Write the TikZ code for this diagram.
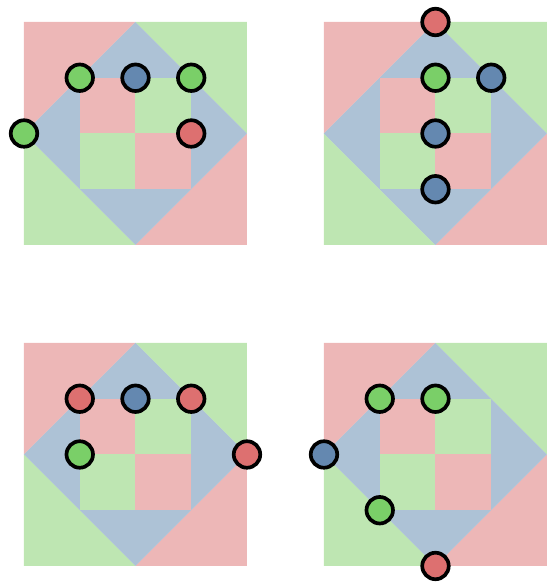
\documentclass[tikz,border=0pt]{standalone}
\usepackage{xcolor}
\usepackage{tikz}

\definecolor{tilered}{HTML}{EDB7B7}
\definecolor{tilegreen}{HTML}{BEE6B2}
\definecolor{tileblue}{HTML}{ADC2D6}
\definecolor{dotred}{HTML}{DD7070}
\definecolor{dotgreen}{HTML}{7ACF68}
\definecolor{dotblue}{HTML}{6488B0}

\tikzset{
	dot/.style={draw=black, circle, line width=2.1pt, inner sep=0pt, minimum size=0.53cm},
	rdot/.style={dot, fill=dotred},
	gdot/.style={dot, fill=dotgreen},
	bdot/.style={dot, fill=dotblue}
}

\newcommand{\tileboard}{%
	\fill[tilered] (0,0) -- (2,0) -- (0,2) -- cycle;
	\fill[tilegreen] (2,0) -- (4,0) -- (4,2) -- cycle;
	\fill[tilered] (4,2) -- (4,4) -- (2,4) -- cycle;
	\fill[tilegreen] (0,2) -- (0,4) -- (2,4) -- cycle;
	\fill[tileblue] (2,0) -- (4,2) -- (2,4) -- (0,2) -- cycle;
	\fill[tilered] (1,1) rectangle (2,2);
	\fill[tilegreen] (2,1) rectangle (3,2);
	\fill[tilegreen] (1,2) rectangle (2,3);
	\fill[tilered] (2,2) rectangle (3,3);
}

\begin{document}
\begin{tikzpicture}[x=1.115cm, y=-1.115cm]
			\useasboundingbox (0,0) rectangle (9.83,10.44);

			% top left
			\begin{scope}[shift={(0.4305,0.3946)}]
				\tileboard
				\node[gdot] (a1) at (1,1) {};
				\node[bdot] (a2) at (2,1) {};
				\node[gdot] (a3) at (3,1) {};
				\node[rdot] (a4) at (3,2) {};
				\node[gdot] (a5) at (0,2) {};
			\end{scope}

			% top right
			\begin{scope}[shift={(5.8117,0.3946)}]
				\tileboard
				\node[rdot] (b1) at (2,0) {};
				\node[gdot] (b2) at (2,1) {};
				\node[bdot] (b3) at (3,1) {};
				\node[bdot] (b4) at (2,2) {};
				\node[bdot] (b5) at (2,3) {};
			\end{scope}

			% bottom left
			\begin{scope}[shift={(0.4305,6.1525)}]
				\tileboard
				\node[rdot] (c1) at (1,1) {};
				\node[bdot] (c2) at (2,1) {};
				\node[rdot] (c3) at (3,1) {};
				\node[gdot] (c4) at (1,2) {};
				\node[rdot] (c5) at (4,2) {};
			\end{scope}

			% bottom right
			\begin{scope}[shift={(5.8117,6.1525)}]
				\tileboard
				\node[gdot] (d1) at (1,1) {};
				\node[gdot] (d2) at (2,1) {};
				\node[bdot] (d3) at (0,2) {};
				\node[gdot] (d4) at (1,3) {};
				\node[rdot] (d5) at (2,4) {};
			\end{scope}
		\end{tikzpicture}
\end{document}
